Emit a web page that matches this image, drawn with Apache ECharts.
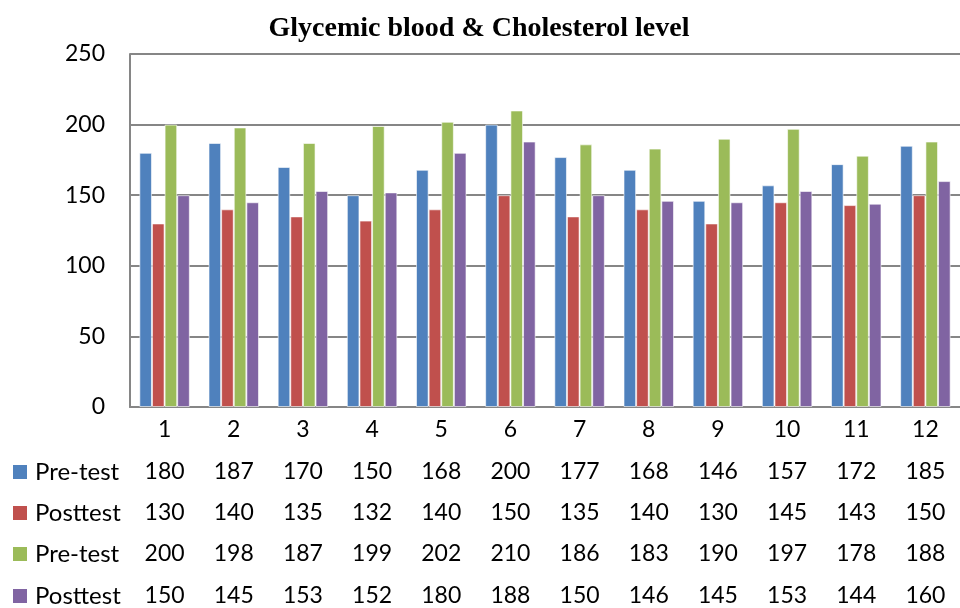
<!DOCTYPE html>
<html><head><meta charset="utf-8">
<script src="https://cdn.jsdelivr.net/npm/echarts@6/dist/echarts.min.js"></script>
<style>html,body{margin:0;padding:0;background:#fff}#c{width:960px;height:608px}</style>
</head><body><div id="c"></div>
<script>
const categories = ['1','2','3','4','5','6','7','8','9','10','11','12'];
const seriesNames = ['Pre-test','Posttest','Pre-test','Posttest'];
const preTest1 = [180,187,170,150,168,200,177,168,146,157,172,185];
const postTest1 = [130,140,135,132,140,150,135,140,130,145,143,150];
const preTest2 = [200,198,187,199,202,210,186,183,190,197,178,188];
const postTest2 = [150,145,153,152,180,188,150,146,145,153,144,160];
const yTicks = {min:0, max:250, interval:50};
const colors = ['#4F81BD','#C0504D','#9BBB59','#8064A2'];
const allSeries = [preTest1, postTest1, preTest2, postTest2];

const font = 'Lato, "Open Sans", sans-serif';
const rowOffsets = [65, 106, 147, 189];

const xAxes = [{
  type:'category', data:categories, gridIndex:0, position:'bottom',
  axisLine:{lineStyle:{color:'#868686', width:2}},
  axisTick:{show:false},
  axisLabel:{color:'#000', fontSize:23, fontFamily:font, margin:11, interval:0}
}];
allSeries.forEach((arr,k)=>{
  xAxes.push({
    type:'category', data:categories, gridIndex:0, position:'bottom', offset:rowOffsets[k],
    axisLine:{show:false}, axisTick:{show:false}, splitLine:{show:false},
    axisLabel:{color:'#000', fontSize:23, fontFamily:font, margin:0, interval:0, verticalAlign:'middle',
      formatter:(v,i)=>String(arr[i])},
    name:'{sq|}{t|'+seriesNames[k]+'}', nameLocation:'start', nameGap:117,
    nameTextStyle:{align:'left', verticalAlign:'middle', color:'#000', fontSize:24, fontFamily:font,
      rich:{sq:{width:14,height:14,backgroundColor:colors[k]}, t:{fontSize:24, fontFamily:font, color:'#000', padding:[0,0,0,8]}}}
  });
});

const chart = echarts.init(document.getElementById('c'), null, {renderer:'canvas'});
chart.setOption({
  animation:false,
  backgroundColor:'#fff',
  title:{text:'Glycemic blood & Cholesterol level', left:474, top:10, textAlign:'center',
    textStyle:{fontFamily:'"Liberation Serif", "DejaVu Serif", serif', fontWeight:'bold', fontSize:28, color:'#000'}},
  grid:{left:130, right:-10, top:54, bottom:197, containLabel:false},
  xAxis:xAxes,
  yAxis:{type:'value', min:yTicks.min, max:yTicks.max, interval:yTicks.interval,
    axisLine:{show:true, lineStyle:{color:'#868686', width:2}},
    axisTick:{show:false},
    splitLine:{lineStyle:{color:'#868686', width:2}},
    axisLabel:{color:'#000', fontSize:23, fontFamily:font, margin:25}},
  series: allSeries.map((arr,k)=>({
    type:'bar', name:seriesNames[k], data:arr, xAxisIndex:0,
    barGap:'0%', barCategoryGap:'27%',
    itemStyle:{color:colors[k], borderColor:'rgba(255,255,255,0.6)', borderWidth:1}
  }))
});
</script></body></html>
